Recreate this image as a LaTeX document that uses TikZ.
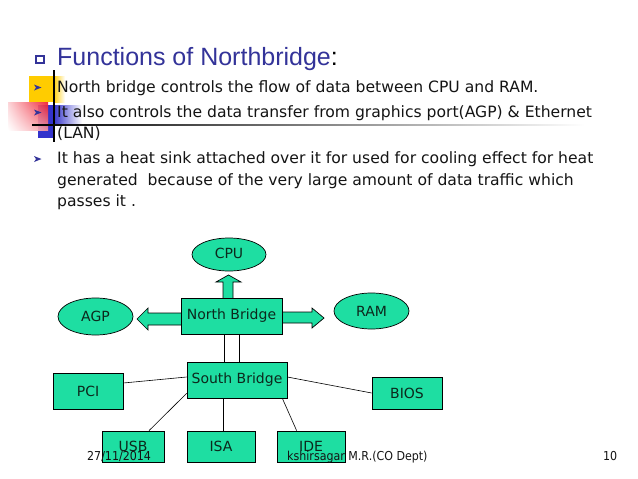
\documentclass[tikz,border=0pt]{standalone}
\usepackage{fontspec}
\setmainfont{Liberation Sans}
\newfontfamily\verd{DejaVu Sans}
\newfontfamily\tah{DejaVu Sans Condensed}
\usetikzlibrary{shapes.geometric,calc,shadings}
\definecolor{aqua}{RGB}{30,222,162}
\definecolor{nodetext}{RGB}{12,40,28}
\definecolor{titleblue}{RGB}{51,51,153}
\definecolor{decoyellow}{RGB}{255,204,0}
\definecolor{decored}{RGB}{240,20,40}
\definecolor{decoblue}{RGB}{51,51,204}
\definecolor{bodytext}{RGB}{20,20,20}
\tikzset{
  ell/.style={ellipse, draw=black, line width=0.7pt, fill=aqua, inner sep=0pt,
    text=nodetext, font=\verd\fontsize{14}{16}\selectfont},
  box/.style={rectangle, draw=black, line width=0.7pt, fill=aqua, inner sep=0pt,
    text=nodetext, font=\verd\fontsize{14}{16}\selectfont},
  blockarr/.style={fill=aqua, draw=black, line width=0.7pt, line join=miter},
  link/.style={draw=black, line width=0.6pt},
  bodyline/.style={anchor=base west, inner sep=0pt, text=bodytext,
    font=\verd\fontsize{15.6}{18}\selectfont},
  footer/.style={anchor=base west, inner sep=0pt, text=bodytext,
    font=\tah\fontsize{12.3}{14}\selectfont},
  bulletmark/.style={fill=titleblue}
}
\begin{document}
\begin{tikzpicture}[x=1pt,y=-1pt]
\useasboundingbox[fill=white] (0,0) rectangle (638,479);

% decorative corner
\fill[decoyellow] (29,76) rectangle (53,102);
\shade[left color=decoyellow, right color=white] (53,76) rectangle (65,102);
\fill[decoblue] (38,105) rectangle (53,138);
\shade[left color=decoblue, right color=white] (53,105) rectangle (82,123);
\shade[upper right=decored, upper left=decored!20!white, lower right=decored!45!white, lower left=white, opacity=0.9] (8,102) rectangle (48,130);
\draw[black, line width=1.3pt] (54,70) -- (54,142);
\shade[left color=black, right color=white] (32,124.4) rectangle (585,125.8);

% title
\draw[titleblue, line width=1.6pt] (36,56) rectangle (44,63);
\node[anchor=base west, inner sep=0pt, text=titleblue, font=\fontsize{25}{28}\selectfont] (title) at (57,65) {Functions of Northbridge\textcolor{black}{:}};

% bullets
\foreach \yy/\nm in {87.5/b1, 112.5/b2, 159/b3}{
  \fill[bulletmark] (34,\yy-3) -- (41.5,\yy) -- (34,\yy+3) -- (36,\yy) -- cycle;
}
\node[bodyline] (l1) at (57,92) {North bridge controls the flow of data between CPU and RAM.};
\node[bodyline] (l2) at (57,117) {It also controls the data transfer from graphics port(AGP) \& Ethernet};
\node[bodyline] (l3) at (57,138) {(LAN)};
\node[bodyline] (l4) at (57,163) {It has a heat sink attached over it for used for cooling effect for heat};
\node[bodyline] (l5) at (57,185) {generated\ \ because of the very large amount of data traffic which};
\node[bodyline] (l6) at (57,206) {passes it .};

% block arrows (drawn before the nodes)
\path[blockarr] (223,298) -- (223,282) -- (216,282) -- (228.5,275) -- (241,282) -- (233,282) -- (233,298);
\path[blockarr] (181,313) -- (148,313) -- (148,308) -- (137,319) -- (148,330) -- (148,325) -- (181,325);
\path[blockarr] (282,312) -- (312,312) -- (312,308) -- (324,318) -- (312,328) -- (312,323) -- (282,323);

% nodes
\node[ell, minimum width=74pt, minimum height=33pt] (cpu) at (229,254.5) {\raisebox{2pt}{CPU}};
\node[ell, minimum width=75pt, minimum height=37pt] (agp) at (95.5,316.5) {AGP};
\node[ell, minimum width=75pt, minimum height=36pt] (ram) at (371.5,311) {RAM};
\node[box, minimum width=101pt, minimum height=36pt] (nb) at (231.5,316) {\raisebox{-2pt}{North Bridge}};
\node[box, minimum width=100pt, minimum height=36pt] (sb) at (237,380) {South Bridge};
\node[box, minimum width=70pt, minimum height=36pt] (pci) at (88,391) {PCI};
\node[box, minimum width=70pt, minimum height=32pt] (bios) at (407,393) {BIOS};
\node[box, minimum width=62pt, minimum height=31pt] (usb) at (133,446.5) {USB};
\node[box, minimum width=68pt, minimum height=31pt] (isa) at (221,446.5) {ISA};
\node[box, minimum width=68pt, minimum height=31pt] (ide) at (311,446.5) {IDE};

% connectors
\draw[link] ([xshift=-7.5pt]nb.south) -- ([xshift=-7.5pt]nb.south |- sb.north);
\draw[link] ([xshift=7.5pt]nb.south) -- ([xshift=7.5pt]nb.south |- sb.north);
\draw[link] ($(pci.east)+(0,-8)$) -- ($(sb.west)+(0,-3)$);
\draw[link] ($(usb.north)+(16,0)$) -- ($(sb.south west)+(0,-5)$);
\draw[link] ([xshift=2pt]isa.north) -- ([xshift=2pt]isa.north |- sb.south);
\draw[link] ($(sb.south east)+(-5,0)$) -- ($(ide.north west)+(20,0)$);
\draw[link] ($(sb.east)+(0,-3)$) -- (bios.west);

% footer
\node[footer] (date) at (87,460) {27/11/2014};
\node[footer] (author) at (287,460) {kshirsagar M.R.(CO Dept)};
\node[footer] (page) at (603,460) {10};
\end{tikzpicture}
\end{document}
